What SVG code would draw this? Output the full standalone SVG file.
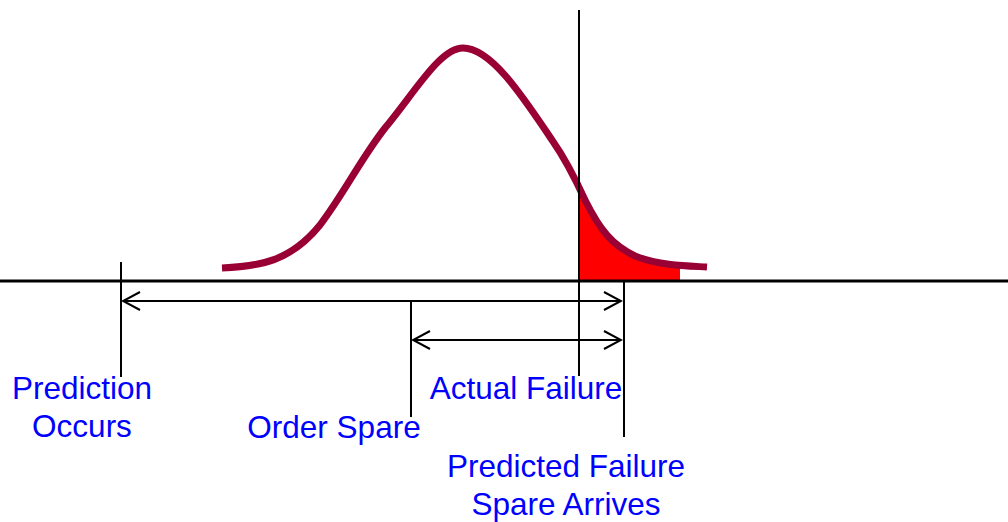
<svg xmlns="http://www.w3.org/2000/svg" width="1008" height="522" viewBox="0 0 1008 522">
<style>
.ln{stroke:#000;stroke-width:2;fill:none}
.lbl{font-family:"Liberation Sans",Arial,sans-serif;font-size:31.5px;fill:#0000FF;text-anchor:middle}
</style>
<defs>
<marker id="ah" markerWidth="20" markerHeight="20" viewBox="0 0 20 20" refX="18" refY="10" orient="auto-start-reverse" markerUnits="userSpaceOnUse">
<path d="M1,1 L18,10 L1,19" fill="none" stroke="#000" stroke-width="2"/>
</marker>
</defs>
<rect width="1008" height="522" fill="#fff"/>
<g id="curve">
<path d="M579,192 C592,218 604,240 625,251 C645,261 665,264 680,266 L680,281 L579,281 Z" fill="#FF0000"/>
<path d="M222,268 C260,266 290,262 320,225 C345,192 360,160 385,128 C415,92 440,48 463,48 C490,48 520,92 552,140 C566,160 575,178 585,200 C600,230 612,245 635,256 C660,266 690,266 707,267" fill="none" stroke="#990033" stroke-width="7"/>
</g>
<g id="axis">
<line x1="0" y1="281" x2="1008" y2="281" stroke="#000" stroke-width="3"/>
</g>
<g id="connectors">
<line class="ln" x1="579" y1="10" x2="579" y2="376"/>
<line class="ln" x1="121" y1="262" x2="121" y2="377"/>
<line class="ln" x1="411" y1="302" x2="411" y2="417"/>
<line class="ln" x1="624" y1="282" x2="624" y2="437"/>
<line class="ln" x1="123" y1="301" x2="621" y2="301" marker-start="url(#ah)" marker-end="url(#ah)"/>
<line class="ln" x1="413" y1="340" x2="621" y2="340" marker-start="url(#ah)" marker-end="url(#ah)"/>
</g>
<g id="prediction-occurs">
<text class="lbl" x="82" y="399">Prediction</text>
<text class="lbl" x="82" y="437">Occurs</text>
</g>
<g id="order-spare">
<text class="lbl" x="334" y="438">Order Spare</text>
</g>
<g id="actual-failure">
<text class="lbl" x="526" y="399">Actual Failure</text>
</g>
<g id="predicted-failure">
<text class="lbl" x="566" y="477">Predicted Failure</text>
<text class="lbl" x="566" y="515">Spare Arrives</text>
</g>
</svg>
